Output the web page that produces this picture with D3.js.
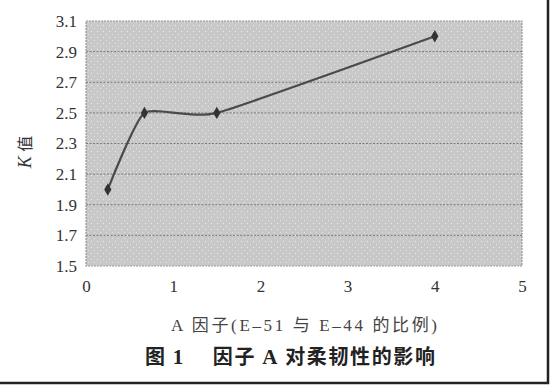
<!DOCTYPE html>
<html><head><meta charset="utf-8">
<script src="https://cdn.jsdelivr.net/npm/d3@7"></script>
<style>body{margin:0;background:#fff}svg{display:block}</style>
</head><body>
<script>
const xValues = [0.25, 0.67, 1.5, 4];
const kValues = [2.0, 2.5, 2.5, 3.0];
const yTicks = [1.5, 1.7, 1.9, 2.1, 2.3, 2.5, 2.7, 2.9, 3.1];
const xTicks = [0, 1, 2, 3, 4, 5];
const yLabel = "值";
const xLabel = "A 因子(E–51 与 E–44 的比例)";
const titleParts = [["图 ","cjk"],["1","lat"],["　 因子 ","cjk"],["A","lat"],[" 对柔韧性的影响","cjk"]];

const W = 550, H = 385;
const svg = d3.select("body").append("svg").attr("width", W).attr("height", H);
const defs = svg.append("defs");
const pat = defs.append("pattern").attr("id","dots").attr("patternUnits","userSpaceOnUse")
  .attr("width",6).attr("height",6);
pat.append("rect").attr("width",6).attr("height",6).attr("fill","#c8c8c8");
pat.append("rect").attr("x",1).attr("y",1).attr("width",1).attr("height",1).attr("fill","#efefef");
pat.append("rect").attr("x",4).attr("y",4).attr("width",1).attr("height",1).attr("fill","#e2e2e2");

const L = 86, R = 522, T = 21, B = 266;
const x = d3.scaleLinear().domain([0,5]).range([L,R]);
const y = d3.scaleLinear().domain([1.5,3.1]).range([B,T]);

// frame
svg.append("line").attr("x1",548).attr("x2",548).attr("y1",0).attr("y2",384).attr("stroke","#222").attr("stroke-width",2.5);
svg.append("line").attr("x1",0).attr("x2",549).attr("y1",383).attr("y2",383).attr("stroke","#222").attr("stroke-width",2.5);

// plot area
svg.append("rect").attr("x",L).attr("y",T).attr("width",R-L).attr("height",B-T)
  .attr("fill","url(#dots)").attr("stroke","#9a9a9a").attr("stroke-width",1.2).attr("stroke-dasharray","2,1");

// gridlines
svg.append("g").selectAll("line").data(yTicks.slice(1,-1)).join("line")
  .attr("x1",L).attr("x2",R).attr("y1",d=>y(d)).attr("y2",d=>y(d))
  .attr("stroke","#7a7a7a").attr("stroke-width",1).attr("stroke-dasharray","2,1.5");

// axes
const yAxis = d3.axisLeft(y).tickValues(yTicks).tickFormat(d3.format(".1f")).tickSize(0).tickPadding(9);
const gy = svg.append("g").attr("transform",`translate(${L},0)`).call(yAxis);
const xAxis = d3.axisBottom(x).tickValues(xTicks).tickFormat(d3.format("d")).tickSize(0).tickPadding(14);
const gx = svg.append("g").attr("transform",`translate(0,${B})`).call(xAxis);
[gx,gy].forEach(g=>{
  g.select(".domain").remove();
  g.selectAll("text").attr("font-family","'Liberation Serif','DejaVu Serif',serif")
    .attr("font-size",17).attr("fill","#333");
});

// line
const line = d3.line().x((d,i)=>x(xValues[i])).y(d=>y(d)).curve(d3.curveCardinal.tension(0.5));
svg.append("path").datum(kValues).attr("d",line).attr("fill","none")
  .attr("stroke","#4a4a4a").attr("stroke-width",2.2);
svg.append("g").selectAll("path").data(kValues).join("path")
  .attr("d",d3.symbol(d3.symbolDiamond,45))
  .attr("transform",(d,i)=>`translate(${x(xValues[i])},${y(d)})`)
  .attr("fill","#333");

// y label
const yl = svg.append("text").attr("transform","translate(31,152) rotate(-90)")
  .attr("text-anchor","middle").attr("font-size",16).attr("fill","#333")
  .attr("font-family","'Noto Sans CJK SC',sans-serif");
yl.append("tspan").text("K ").attr("font-style","italic").attr("font-family","'Liberation Serif',serif").attr("font-size",18);
yl.append("tspan").text(yLabel);

svg.append("text").attr("x",171).attr("y",331)
  .attr("textLength",266).attr("lengthAdjust","spacing")
  .attr("font-family","'Liberation Serif','Noto Sans CJK SC',serif").attr("font-size",17).attr("fill","#444").text(xLabel);

const tt = svg.append("text").attr("x",145).attr("y",364)
  .attr("textLength",290).attr("lengthAdjust","spacing")
  .attr("font-weight","bold").attr("font-size",20).attr("fill","#222");
titleParts.forEach(([s,k])=>{
  tt.append("tspan").text(s).attr("font-family", k==="lat" ? "'Liberation Serif',serif" : "'Noto Sans CJK SC',sans-serif")
    .attr("font-size", k==="lat" ? 21 : 20);
});
</script>
</body></html>
